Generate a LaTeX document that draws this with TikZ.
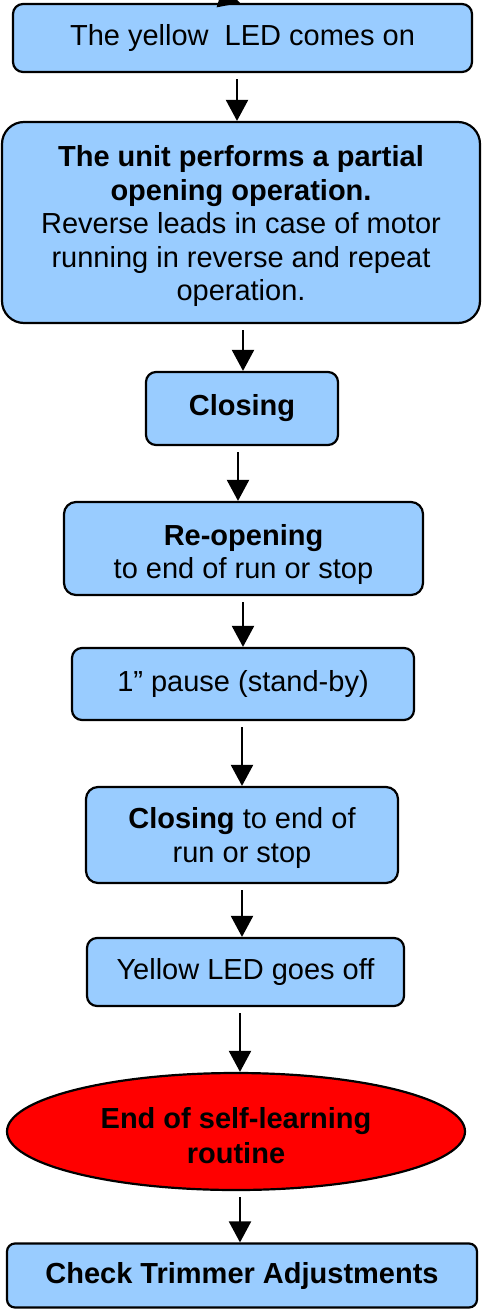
\documentclass[tikz,border=0pt]{standalone}
\usepackage{fontspec}
\setmainfont{Liberation Sans}
\usetikzlibrary{arrows.meta,shapes.geometric}
\definecolor{boxblue}{HTML}{99CCFF}
\definecolor{endred}{HTML}{FF0000}
\newcommand\topstrut[1]{\rule{0pt}{#1}}
\tikzset{
  flowbox/.style={draw=black, fill=boxblue, line width=2.2pt, inner sep=0pt,
    align=center, font=\fontsize{29}{33.5}\selectfont},
  endoval/.style={ellipse, draw=black, fill=endred, line width=2.2pt, inner sep=0pt,
    align=center, font=\fontsize{29}{35}\selectfont\bfseries},
  flowarrow/.style={line width=2.2pt, -{Triangle[length=21pt,width=22pt]}, shorten <=6pt}
}
\begin{document}
\begin{tikzpicture}[x=1pt,y=-1pt]
\useasboundingbox (0,0) rectangle (482,1309);
\fill[white] (0,0) rectangle (482,1309);
\clip (0,0) rectangle (482,1309);

\node[flowbox, rounded corners=10pt, minimum width=459pt, minimum height=68pt] (top) at (242.5,38) {The yellow\ \ LED comes on};
\node[flowbox, rounded corners=22pt, minimum width=478pt, minimum height=201pt] (big) at (241,222.5)
  {\topstrut{29pt}\textbf{The unit performs a partial}\\\textbf{opening operation.}\\Reverse leads in case of motor\\running in reverse and repeat\\operation.};
\node[flowbox, rounded corners=10pt, minimum width=192pt, minimum height=73pt] (closing) at (242,408.5) {\textbf{Closing}};
\node[flowbox, rounded corners=12pt, minimum width=359pt, minimum height=93pt] (reopen) at (243.5,548.5)
  {\topstrut{33pt}\textbf{Re-opening}\\to end of run or stop};
\node[flowbox, rounded corners=10pt, minimum width=342pt, minimum height=72pt] (pause) at (243,684) {1” pause (stand-by)};
\node[flowbox, rounded corners=12pt, minimum width=312pt, minimum height=96pt] (close2) at (242,835)
  {\topstrut{27pt}\textbf{Closing} to end of\\run or stop};
\node[flowbox, rounded corners=10pt, minimum width=317pt, minimum height=68pt] (ledoff) at (245.5,972) {Yellow LED goes off};
\node[endoval, minimum width=458pt, minimum height=117pt] (endnode) at (236,1131.5) {\topstrut{29pt}End of self-learning\\routine};
\node[flowbox, rounded corners=8pt, minimum width=470pt, minimum height=64pt] (check) at (242,1275.5) {\textbf{Check Trimmer Adjustments}};

\coordinate (incoming) at (180,-16);
\draw[line width=2.2pt, -{Triangle[length=21pt,width=22pt]}] (incoming) -- (top.north -| 240,0);

\draw[flowarrow] (top.south -| 237,0) -- (big.north -| 237,0);
\draw[flowarrow] (big.south -| 243,0) -- (closing.north -| 243,0);
\draw[flowarrow] (closing.south -| 238,0) -- (reopen.north -| 238,0);
\draw[flowarrow] (reopen.south -| 243,0) -- (pause.north -| 243,0);
\draw[flowarrow] (pause.south -| 242,0) -- (close2.north -| 242,0);
\draw[flowarrow] (close2.south -| 242,0) -- (ledoff.north -| 242,0);
\draw[flowarrow] (ledoff.south -| 240,0) -- (endnode.north -| 240,0);
\draw[flowarrow] (endnode.south -| 240,0) -- (check.north -| 240,0);
\end{tikzpicture}
\end{document}
